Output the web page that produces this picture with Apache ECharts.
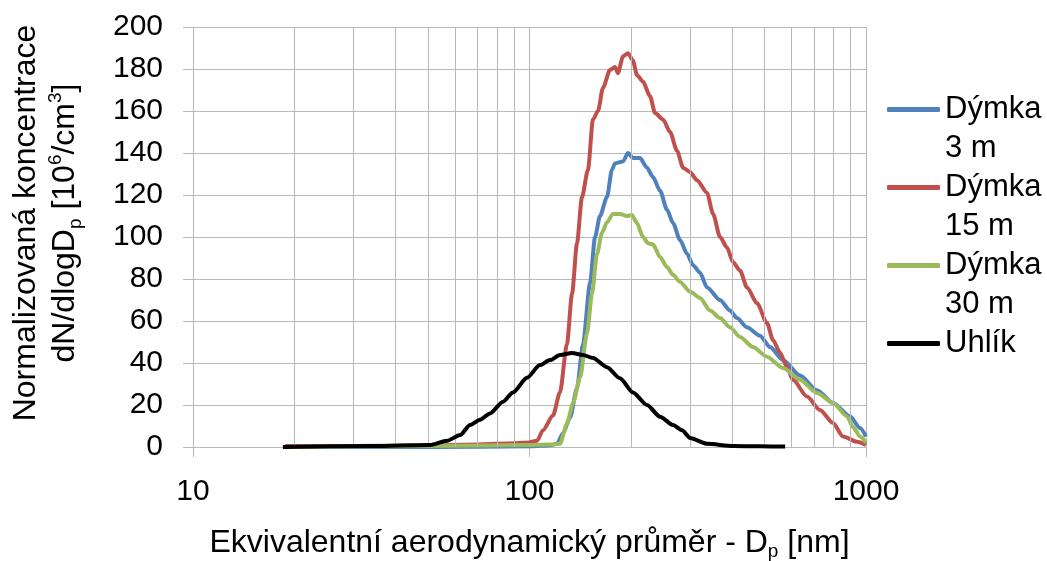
<!DOCTYPE html>
<html>
<head>
<meta charset="utf-8">
<script src="https://cdn.jsdelivr.net/npm/echarts@6/dist/echarts.min.js"></script>
<style>
html,body{margin:0;padding:0;background:#fff;}
#chart{width:1047px;height:561px;}
</style>
</head>
<body>
<div id="chart"></div>
<script>
// ---- data (diameter in nm, normalized concentration) ----
const seriesNames = ['Dýmka\n3 m', 'Dýmka\n15 m', 'Dýmka\n30 m', 'Uhlík'];

const dBlue = [18.8, 50, 100, 115, 120.7, 125.8, 132.0, 138.4, 144.2, 151.3, 156.6, 162.0, 169.9, 175.8, 179.5, 189.6, 196.2, 203.0, 213.0, 223.5, 232.8, 244.3, 256.3, 267.0, 280.2, 293.9, 306.2, 321.2, 337.0, 368.3, 394.4, 413.7, 443.0, 484.2, 518.4, 566.6, 636.7, 715.2, 798.0, 896.4, 959.8, 1000];
const vBlue = [0, 0, 0.3, 0.8, 1.5, 6.5, 14, 28, 49, 78, 100, 110, 119, 132, 135, 136, 140, 137.6, 137.6, 133, 128.6, 122, 113, 106.6, 98.6, 92, 86.6, 83, 76, 70, 65, 61.4, 57, 53, 47.6, 41.4, 34, 27, 21, 14.6, 9, 5];

const dRed = [18.8, 30, 50, 70, 90, 100, 105.3, 109.7, 117.4, 123.2, 129.2, 133.8, 138.4, 143.2, 149.2, 154.4, 159.8, 165.3, 173.4, 179.5, 183.2, 189.6, 196.2, 203.0, 208.7, 217.4, 228.2, 236.1, 249.4, 261.6, 274.5, 286.0, 299.9, 314.7, 337.0, 351.1, 368.3, 386.4, 402.6, 422.3, 443.0, 474.3, 507.9, 529.1, 555.1, 582.4, 606.9, 667.9, 730.0, 798.0, 854.3, 940.4, 1000];
const vRed = [0.5, 0.5, 0.8, 1.2, 1.8, 2.2, 3, 8, 15, 26, 49, 73, 97, 119, 132, 156, 160, 171, 179.5, 181, 178, 186, 187.5, 184, 177, 174, 167, 159, 156, 150, 141, 133, 131, 127, 121, 111, 100, 95, 88, 84, 76, 68.5, 59, 51, 45, 38, 32, 24, 17.6, 11.4, 5, 2.5, 1];

const dGreen = [18.8, 50, 100, 115, 123.2, 129.2, 134.7, 141.3, 148.2, 153.4, 158.7, 164.2, 169.9, 177.0, 185.7, 194.8, 201.6, 208.7, 217.4, 225.0, 232.8, 244.3, 256.3, 267.0, 280.2, 299.9, 321.2, 344.0, 368.3, 394.4, 422.3, 461.5, 507.9, 566.6, 636.7, 715.2, 798.0, 878.1, 915.0, 959.8, 1000];
const vGreen = [0, 0.5, 1, 1.2, 1.5, 11, 21, 33, 54, 73, 92, 102, 107, 111, 111, 110, 110.5, 106.6, 100, 97, 96.5, 90.5, 85.7, 82, 78.6, 74, 71, 65, 61.4, 57, 52.4, 47.6, 43, 37.6, 32, 25.7, 21, 14.6, 9.5, 5, 2];

const dBlack = [18.5, 34.3, 50.6, 56.9, 62.2, 66.6, 71.3, 76.3, 83.4, 89.3, 98.3, 107.4, 115.1, 123.2, 133.8, 144.2, 154.4, 169.9, 185.7, 203.0, 223.5, 244.3, 267.0, 284.0, 299.9, 337.0, 402.6, 484.2, 575];
const vBlack = [0, 0.5, 1, 3, 5.7, 10.5, 13, 16, 21.6, 26, 33, 39, 41.4, 43.8, 44.8, 43.8, 42.4, 38, 32.7, 26, 20, 14.4, 10.5, 8, 4.3, 1.5, 0.5, 0.3, 0.2];

// minor (log) grid lines on x axis
const minorGrid = [20, 30, 40, 50, 60, 70, 80, 90, 200, 300, 400, 500, 600, 700, 800, 900];
// ---------------------------------------------------------

const FONT = 'Liberation Sans, Arial, sans-serif';
const GRID = '#b8b8b8';
const colors = ['#4f81bd', '#c0504d', '#9bbb59', '#000000'];

function pairs(d, v) { return d.map((x, i) => [x, v[i]]); }
const datasets = [pairs(dBlue, vBlue), pairs(dRed, vRed), pairs(dGreen, vGreen), pairs(dBlack, vBlack)];

const chart = echarts.init(document.getElementById('chart'), null, {renderer: 'canvas'});

const series = [{
  name: '_grid',
  type: 'line',
  data: [],
  z: 1,
  silent: true,
  markLine: {
    silent: true,
    symbol: ['none', 'none'],
    label: {show: false},
    lineStyle: {color: GRID, width: 1, type: 'solid'},
    emphasis: {disabled: true},
    animation: false,
    data: minorGrid.map(v => ({xAxis: v}))
  }
}];
seriesNames.forEach((n, i) => {
  series.push({
    name: n,
    type: 'line',
    data: datasets[i],
    showSymbol: false,
    symbol: 'none',
    smooth: 0.25,
    smoothMonotone: 'x',
    z: 2 + i,
    lineStyle: {color: colors[i], width: 4},
    itemStyle: {color: colors[i]}
  });
});

chart.setOption({
  animation: false,
  textStyle: {fontFamily: FONT},
  grid: {left: 193, right: 181, top: 27, bottom: 114, containLabel: false, outerBoundsMode: 'none'},
  legend: {
    orient: 'vertical',
    left: 887,
    top: 51,
    padding: 0,
    itemGap: -39,
    itemWidth: 53,
    itemHeight: 5,
    icon: 'roundRect',
    selectedMode: false,
    formatter: function (n) { return n === 'Uhlík' ? ' \nUhlík\n ' : ' \n' + n; },
    textStyle: {fontFamily: FONT, fontSize: 31, color: '#000', lineHeight: 39},
    data: seriesNames
  },
  xAxis: {
    type: 'log',
    logBase: 10,
    min: 10,
    max: 1000,
    name: '{a|Ekvivalentní aerodynamický průměr - D}{sub|p}{a| [nm]}',
    nameLocation: 'middle',
    nameGap: 78,
    nameTextStyle: {
      fontFamily: FONT, color: '#000',
      rich: {
        a: {fontFamily: FONT, fontSize: 32, color: '#000', lineHeight: 36},
        sub: {fontFamily: FONT, fontSize: 19, color: '#000', lineHeight: 36, verticalAlign: 'bottom'}
      }
    },
    axisLine: {show: true, lineStyle: {color: GRID, width: 1}},
    axisTick: {show: true, inside: false, length: 10, lineStyle: {color: GRID}},
    axisLabel: {fontFamily: FONT, fontSize: 30, color: '#000', margin: 30, formatter: function (v) { return String(v); }},
    splitLine: {show: true, lineStyle: {color: GRID, width: 1}},
    minorTick: {show: false},
    minorSplitLine: {show: false}
  },
  yAxis: {
    type: 'value',
    min: 0,
    max: 200,
    interval: 20,
    name: '{a|Normalizovaná koncentrace}\n{a|dN/dlogD}{sub|p}{a| [10}{sup|6}{a|/cm}{sup|3}{a|]}',
    nameLocation: 'middle',
    nameRotate: 90,
    nameGap: 108,
    nameTextStyle: {
      fontFamily: FONT, color: '#000',
      padding: [0, 0, 0, 28],
      rich: {
        a: {fontFamily: FONT, fontSize: 32, color: '#000', lineHeight: 39},
        sub: {fontFamily: FONT, fontSize: 19, color: '#000', lineHeight: 39, verticalAlign: 'bottom'},
        sup: {fontFamily: FONT, fontSize: 19, color: '#000', lineHeight: 22, verticalAlign: 'top'}
      }
    },
    axisLine: {show: true, lineStyle: {color: GRID, width: 1}},
    axisTick: {show: true, inside: false, length: 10, lineStyle: {color: GRID}},
    axisLabel: {fontFamily: FONT, fontSize: 30, color: '#000', margin: 30},
    splitLine: {show: true, lineStyle: {color: GRID, width: 1}}
  },
  series: series
});
</script>
</body>
</html>
